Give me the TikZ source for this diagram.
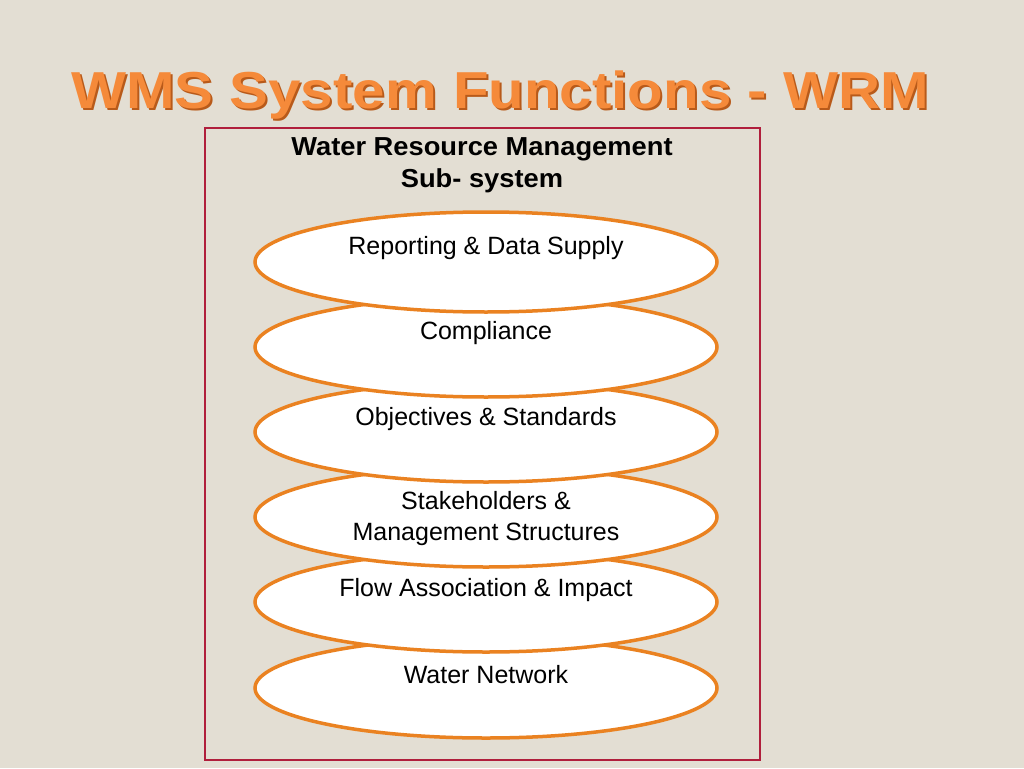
\documentclass[tikz,border=0pt]{standalone}
\usetikzlibrary{shapes.geometric}
\usepackage{fontspec}
\setmainfont{Liberation Sans}
\begin{document}
\begin{tikzpicture}[x=1pt,y=-1pt,
  ell/.style={draw=orng,line width=3.5pt,fill=white,ellipse,minimum width=462pt,minimum height=100pt},
  lbl/.style={font=\fontsize{25}{30}\selectfont,align=center}]
\definecolor{bg}{HTML}{E3DED3}
\definecolor{orng}{HTML}{EA8221}
\definecolor{ttl}{HTML}{F58A3A}
\definecolor{ttldark}{HTML}{B85A1A}
\definecolor{frame}{HTML}{B01E3C}
\fill[bg] (0,0) rectangle (1024,768);
\useasboundingbox (0,0) rectangle (1024,768);
\node[font=\fontsize{52}{56}\selectfont\bfseries,text=ttldark,xscale=1.12] (tshadow) at (502,97) {WMS System Functions - WRM};
\node[font=\fontsize{52}{56}\selectfont\bfseries,text=ttl,xscale=1.12] (title) at (500,95) {WMS System Functions - WRM};
\draw[frame,line width=2pt] (205,128) rectangle (760,760);
\node[lbl,font=\fontsize{26}{32}\selectfont\bfseries,xscale=1.05] (head) at (482,165) {Water Resource Management\\Sub- system};
\foreach \n/\y in {6/688,5/602,4/517,3/432,2/347,1/262}{
  \node[ell] (e\n) at (486,\y) {};
}
\node[lbl] (t1) at (486,248) {Reporting \& Data Supply};
\node[lbl] (t2) at (486,333) {Compliance};
\node[lbl] (t3) at (486,419) {Objectives \& Standards};
\node[lbl,font=\fontsize{25}{31}\selectfont] (t4) at (486,519) {Stakeholders \&\\Management Structures};
\node[lbl] (t5) at (486,590) {Flow Association \& Impact};
\node[lbl] (t6) at (486,675) {Water Network};
\end{tikzpicture}
\end{document}
